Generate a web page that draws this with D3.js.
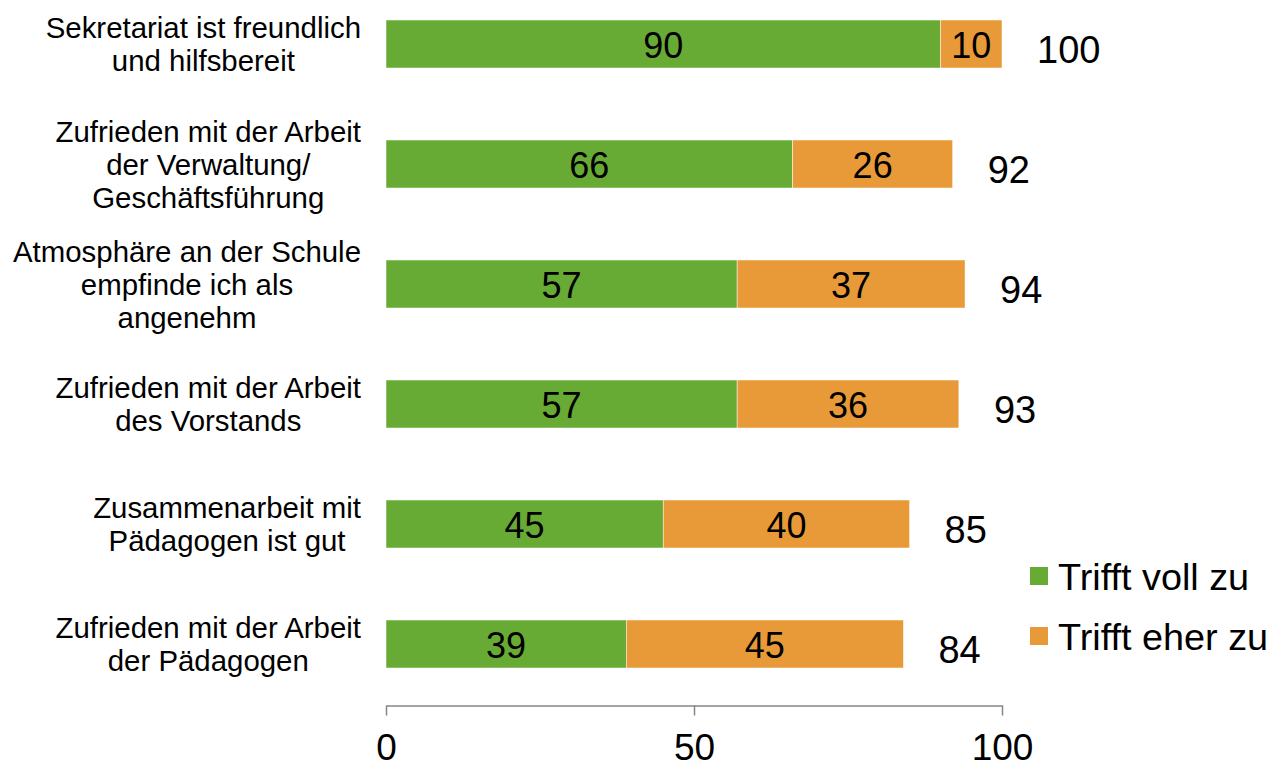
<!DOCTYPE html>
<html><head><meta charset="utf-8">
<script src="https://cdn.jsdelivr.net/npm/d3@7"></script>
<style>body{margin:0;background:#fff}svg{display:block}text{font-family:"Liberation Sans",Arial,sans-serif;fill:#000}</style>
</head><body><svg id="c" width="1269" height="763"></svg>
<script>
const categories = [
  ["Sekretariat ist freundlich","und hilfsbereit"],
  ["Zufrieden mit der Arbeit","der Verwaltung/","Geschäftsführung"],
  ["Atmosphäre an der Schule","empfinde ich als","angenehm"],
  ["Zufrieden mit der Arbeit","des Vorstands"],
  ["Zusammenarbeit mit","Pädagogen ist gut"],
  ["Zufrieden mit der Arbeit","der Pädagogen"]
];
const voll = [90, 66, 57, 57, 45, 39];
const eher = [10, 26, 37, 36, 40, 45];
const totals = [100, 92, 94, 93, 85, 84];
const seriesNames = ["Trifft voll zu", "Trifft eher zu"];
const colors = ["#67ab35", "#e99a38"];
const ticks = [0, 50, 100];

const svg = d3.select("#c");
const ids = categories.map((c,i)=>i);
const x = d3.scaleLinear().domain([0,100]).range([386,1002]);
const y = d3.scaleBand().domain(ids).range([-16,704]).paddingInner(0.6).paddingOuter(0.3);

// axis
const ax = svg.append("g").attr("transform","translate(0,705.5)")
  .call(d3.axisBottom(x).tickValues(ticks).tickSize(10).tickPadding(18).tickSizeOuter(0));
ax.select(".domain").attr("stroke","#868686").attr("stroke-width",1.5);
ax.selectAll(".tick line").attr("stroke","#868686").attr("stroke-width",1.5);
ax.selectAll(".tick text").attr("font-size",37).attr("font-family","Liberation Sans, Arial, sans-serif").attr("fill","#000");

// stacked bars
const stack = ids.map(i=>[{s:0,x0:0,x1:voll[i],v:voll[i]},{s:1,x0:voll[i],x1:voll[i]+eher[i],v:eher[i]}]);
ids.forEach(i=>{
  const g = svg.append("g");
  stack[i].forEach(d=>{
    g.append("rect").attr("x",x(d.x0)).attr("y",y(i)).attr("width",x(d.x1)-x(d.x0)).attr("height",y.bandwidth())
      .attr("fill",colors[d.s]).attr("stroke","#fff").attr("stroke-width",0.5);
    g.append("text").attr("x",(x(d.x0)+x(d.x1))/2).attr("y",y(i)+y.bandwidth()/2+1).attr("dy","0.36em")
      .attr("text-anchor","middle").attr("font-size",36).text(d.v);
  });
  g.append("text").attr("x",x(totals[i])+35).attr("y",y(i)+y.bandwidth()/2+5).attr("dy","0.36em")
    .attr("font-size",38).text(totals[i]);
});

// category labels
const lh = 33;
ids.forEach(i=>{
  const lines = categories[i];
  const cy = y(i)+y.bandwidth()/2;
  const t = svg.append("g");
  const texts = lines.map((l,j)=>t.append("text").attr("font-size",29.4).attr("text-anchor","middle")
    .attr("y",cy+(j-(lines.length-1)/2)*lh).attr("dy","0.36em").text(l));
  const w = d3.max(texts,tx=>tx.node().getComputedTextLength());
  texts.forEach(tx=>tx.attr("x",361-w/2));
});

// legend
seriesNames.forEach((n,k)=>{
  const ly = 576 + k*60;
  svg.append("rect").attr("x",1030).attr("y",ly-9).attr("width",18).attr("height",18).attr("fill",colors[k]);
  svg.append("text").attr("x",1058).attr("y",ly).attr("dy","0.36em").attr("font-size",37.8).text(n);
});
</script></body></html>
